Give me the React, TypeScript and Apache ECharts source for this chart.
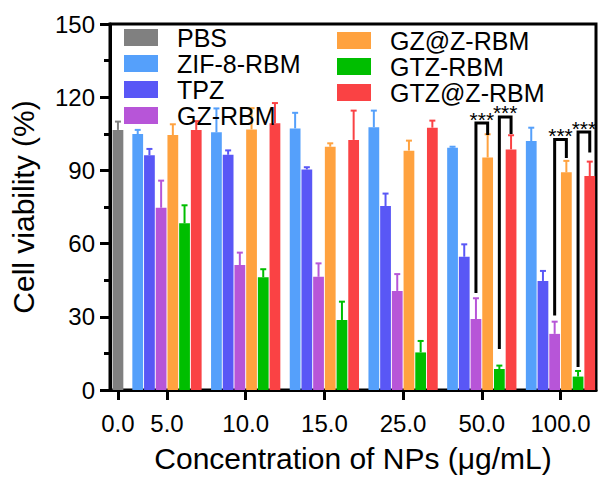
import React, { useEffect, useRef } from "react";
import * as echarts from "echarts";

// ---------- data ----------
const categories = ["0.0", "5.0", "10.0", "15.0", "25.0", "50.0", "100.0"];

const pbsValues = [106.6];
const pbsErrors = [3.4];

const zifValues = [104.9, 105.6, 107.2, 107.7, 99.3, 102.0];
const zifErrors = [1.7, 9.8, 6.4, 6.8, 0.4, 5.5];

const tpzValues = [96.2, 96.4, 90.4, 75.4, 54.6, 44.7];
const tpzErrors = [2.6, 1.8, 0.9, 5.1, 5.1, 4.1];

const gzValues = [74.7, 51.2, 46.4, 40.6, 29.1, 23.0];
const gzErrors = [11.1, 5.1, 5.5, 6.9, 8.5, 5.0];

const gzzValues = [104.5, 106.8, 99.7, 98.1, 95.3, 89.2];
const gzzErrors = [4.4, 8.7, 1.4, 4.1, 9.5, 4.7];

const gtzValues = [68.3, 46.2, 28.7, 15.4, 8.6, 5.5];
const gtzErrors = [7.4, 3.3, 7.5, 4.7, 1.4, 2.3];

const gtzzValues = [106.6, 109.3, 102.5, 107.5, 98.6, 87.7];
const gtzzErrors = [3.6, 8.3, 12.0, 2.9, 5.8, 5.9];

const yTicks = [0, 30, 60, 90, 120, 150];

// significance brackets
const sigCategory = ["50.0", "50.0", "100.0", "100.0"];
const sigFrom = ["GZ-RBM", "GTZ-RBM", "GZ-RBM", "GTZ-RBM"];
const sigTo = ["GZ@Z-RBM", "GTZ@Z-RBM", "GZ@Z-RBM", "GTZ@Z-RBM"];
const sigTop = [109.4, 111.9, 102.7, 105.7];
const sigFromBottom = [39.8, 16.8, 30.5, 9.4];
const sigToBottom = [104.5, 104.9, 95.1, 97.3];
const sigLabel = ["***", "***", "***", "***"];

// ---------- layout / style ----------
const FONT = "'Liberation Sans', Arial, Helvetica, sans-serif";
const PBS_POS = 0.377; // position of the 0.0 group on the x scale (others at their index)
const X_MIN = 0.276;
const X_MAX = 6.451;
const SLOT = 0.1487; // one bar slot, in group units
const BAR_FRAC = 0.92;
const CAP_HALF = 3;

const groupPos = categories.map((_, i) => (i === 0 ? PBS_POS : i));

type SeriesDef = {
  name: string;
  color: string;
  values: number[];
  errors: number[];
  start: number; // first category index
  slot: number; // slot offset inside the group
};

const seriesDefs: SeriesDef[] = [
  { name: "PBS", color: "#808080", values: pbsValues, errors: pbsErrors, start: 0, slot: 0 },
  { name: "ZIF-8-RBM", color: "#55A0FB", values: zifValues, errors: zifErrors, start: 1, slot: -2.5 },
  { name: "TPZ", color: "#5957F6", values: tpzValues, errors: tpzErrors, start: 1, slot: -1.5 },
  { name: "GZ-RBM", color: "#B755D8", values: gzValues, errors: gzErrors, start: 1, slot: -0.5 },
  { name: "GZ@Z-RBM", color: "#FFA23F", values: gzzValues, errors: gzzErrors, start: 1, slot: 0.5 },
  { name: "GTZ-RBM", color: "#00BE00", values: gtzValues, errors: gtzErrors, start: 1, slot: 1.5 },
  { name: "GTZ@Z-RBM", color: "#FA4244", values: gtzzValues, errors: gtzzErrors, start: 1, slot: 2.5 },
];

const slotOf = (name: string) => seriesDefs.find((s) => s.name === name)!.slot;

function barSeries(def: SeriesDef) {
  return {
    type: "custom",
    name: def.name,
    itemStyle: { color: def.color },
    encode: { x: 0, y: 1 },
    data: def.values.map((v, i) => [groupPos[def.start + i], v, def.errors[i]]),
    renderItem: (params: any, api: any) => {
      const x = api.value(0);
      const v = api.value(1);
      const e = api.value(2);
      const unitPx = api.size([1, 0])[0];
      const slotPx = unitPx * SLOT;
      const barW = slotPx * BAR_FRAC;
      const base = api.coord([x, 0]);
      const top = api.coord([x, v]);
      const err = api.coord([x, v + e]);
      const cx = base[0] + def.slot * slotPx;
      return {
        type: "group",
        children: [
          {
            type: "rect",
            shape: { x: cx - barW / 2, y: top[1], width: barW, height: base[1] - top[1] },
            style: { fill: def.color },
          },
          {
            type: "line",
            shape: { x1: cx, y1: top[1], x2: cx, y2: err[1] },
            style: { stroke: def.color, lineWidth: 2 },
          },
          {
            type: "line",
            shape: { x1: cx - CAP_HALF, y1: err[1], x2: cx + CAP_HALF, y2: err[1] },
            style: { stroke: def.color, lineWidth: 2 },
          },
        ],
      };
    },
  };
}

const bracketSeries = {
  type: "custom",
  name: "significance",
  encode: { x: 0, y: 3 },
  z: 5,
  data: sigCategory.map((c, i) => [
    groupPos[categories.indexOf(c)],
    slotOf(sigFrom[i]),
    slotOf(sigTo[i]),
    sigTop[i],
    sigFromBottom[i],
    sigToBottom[i],
    i,
  ]),
  renderItem: (params: any, api: any) => {
    const x = api.value(0);
    const s1 = api.value(1);
    const s2 = api.value(2);
    const unitPx = api.size([1, 0])[0];
    const slotPx = unitPx * SLOT;
    const c = api.coord([x, api.value(3)]);
    const lb = api.coord([x, api.value(4)]);
    const rb = api.coord([x, api.value(5)]);
    const lx = c[0] + s1 * slotPx;
    const rx = c[0] + s2 * slotPx;
    const idx = api.value(6);
    return {
      type: "group",
      children: [
        {
          type: "polyline",
          shape: {
            points: [
              [lx, lb[1]],
              [lx, c[1]],
              [rx, c[1]],
              [rx, rb[1]],
            ],
          },
          style: { stroke: "#000", lineWidth: 3, fill: "none", lineJoin: "miter", lineCap: "butt" },
        },
        {
          type: "text",
          x: (lx + rx) / 2,
          y: c[1] - 4,
          style: {
            text: sigLabel[idx],
            fontSize: 21,
            fontFamily: FONT,
            fill: "#000",
            align: "center",
            verticalAlign: "middle",
          },
        },
      ],
    };
  },
};

const nearestCategory = (val: number) => {
  let best = 0;
  groupPos.forEach((p, i) => {
    if (Math.abs(p - val) < Math.abs(groupPos[best] - val)) best = i;
  });
  return categories[best];
};

const legendCommon = {
  orient: "vertical",
  icon: "rect",
  itemWidth: 34,
  itemHeight: 17,
  itemGap: 1,
  padding: 0,
  selectedMode: false,
  textStyle: {
    fontSize: 25,
    lineHeight: 24,
    fontFamily: FONT,
    color: "#000",
    padding: [0, 0, 0, 14],
  },
};

export default function App() {
  const ref = useRef<HTMLDivElement>(null);

  useEffect(() => {
    if (!ref.current) return;
    const chart = echarts.init(ref.current, undefined, { renderer: "svg" });
    chart.setOption({
      animation: false,
      backgroundColor: "#fff",
      textStyle: { fontFamily: FONT },
      grid: {
        left: 110,
        right: 4,
        top: 24,
        bottom: 88,
        show: true,
        borderColor: "#000",
        borderWidth: 3,
        backgroundColor: "transparent",
      },
      legend: [
        {
          ...legendCommon,
          left: 124,
          top: 25,
          data: ["PBS", "ZIF-8-RBM", "TPZ", "GZ-RBM"],
        },
        {
          ...legendCommon,
          left: 337,
          top: 28,
          data: ["GZ@Z-RBM", "GTZ-RBM", "GTZ@Z-RBM"],
        },
      ],
      xAxis: {
        type: "value",
        min: X_MIN,
        max: X_MAX,
        name: "Concentration of NPs (\u03bcg/mL)",
        nameLocation: "middle",
        nameGap: 53,
        nameTextStyle: { fontSize: 30, color: "#000", fontFamily: FONT },
        splitLine: { show: false },
        axisLine: { onZero: false, lineStyle: { color: "#000", width: 3 } },
        axisTick: {
          show: true,
          customValues: groupPos,
          length: 10,
          lineStyle: { color: "#000", width: 3 },
        },
        axisLabel: {
          customValues: groupPos,
          formatter: (val: number) => nearestCategory(val),
          fontSize: 24,
          color: "#000",
          margin: 21,
          fontFamily: FONT,
        },
      },
      yAxis: {
        type: "value",
        min: yTicks[0],
        max: yTicks[yTicks.length - 1],
        interval: yTicks[1] - yTicks[0],
        name: "Cell viability (%)",
        nameLocation: "middle",
        nameRotate: 90,
        nameGap: 72,
        nameTextStyle: { fontSize: 30, color: "#000", fontFamily: FONT },
        splitLine: { show: false },
        axisLine: { show: true, lineStyle: { color: "#000", width: 3 } },
        axisTick: { show: true, length: 10, lineStyle: { color: "#000", width: 3 } },
        minorTick: { show: true, splitNumber: 2, length: 6, lineStyle: { color: "#000", width: 3 } },
        axisLabel: { fontSize: 24, color: "#000", margin: 15, fontFamily: FONT },
      },
      series: [...seriesDefs.map(barSeries), bracketSeries],
    });
    return () => chart.dispose();
  }, []);

  return (
    <div
      ref={ref}
      style={{ position: "fixed", left: 0, top: 0, width: 600, height: 478 }}
    />
  );
}
